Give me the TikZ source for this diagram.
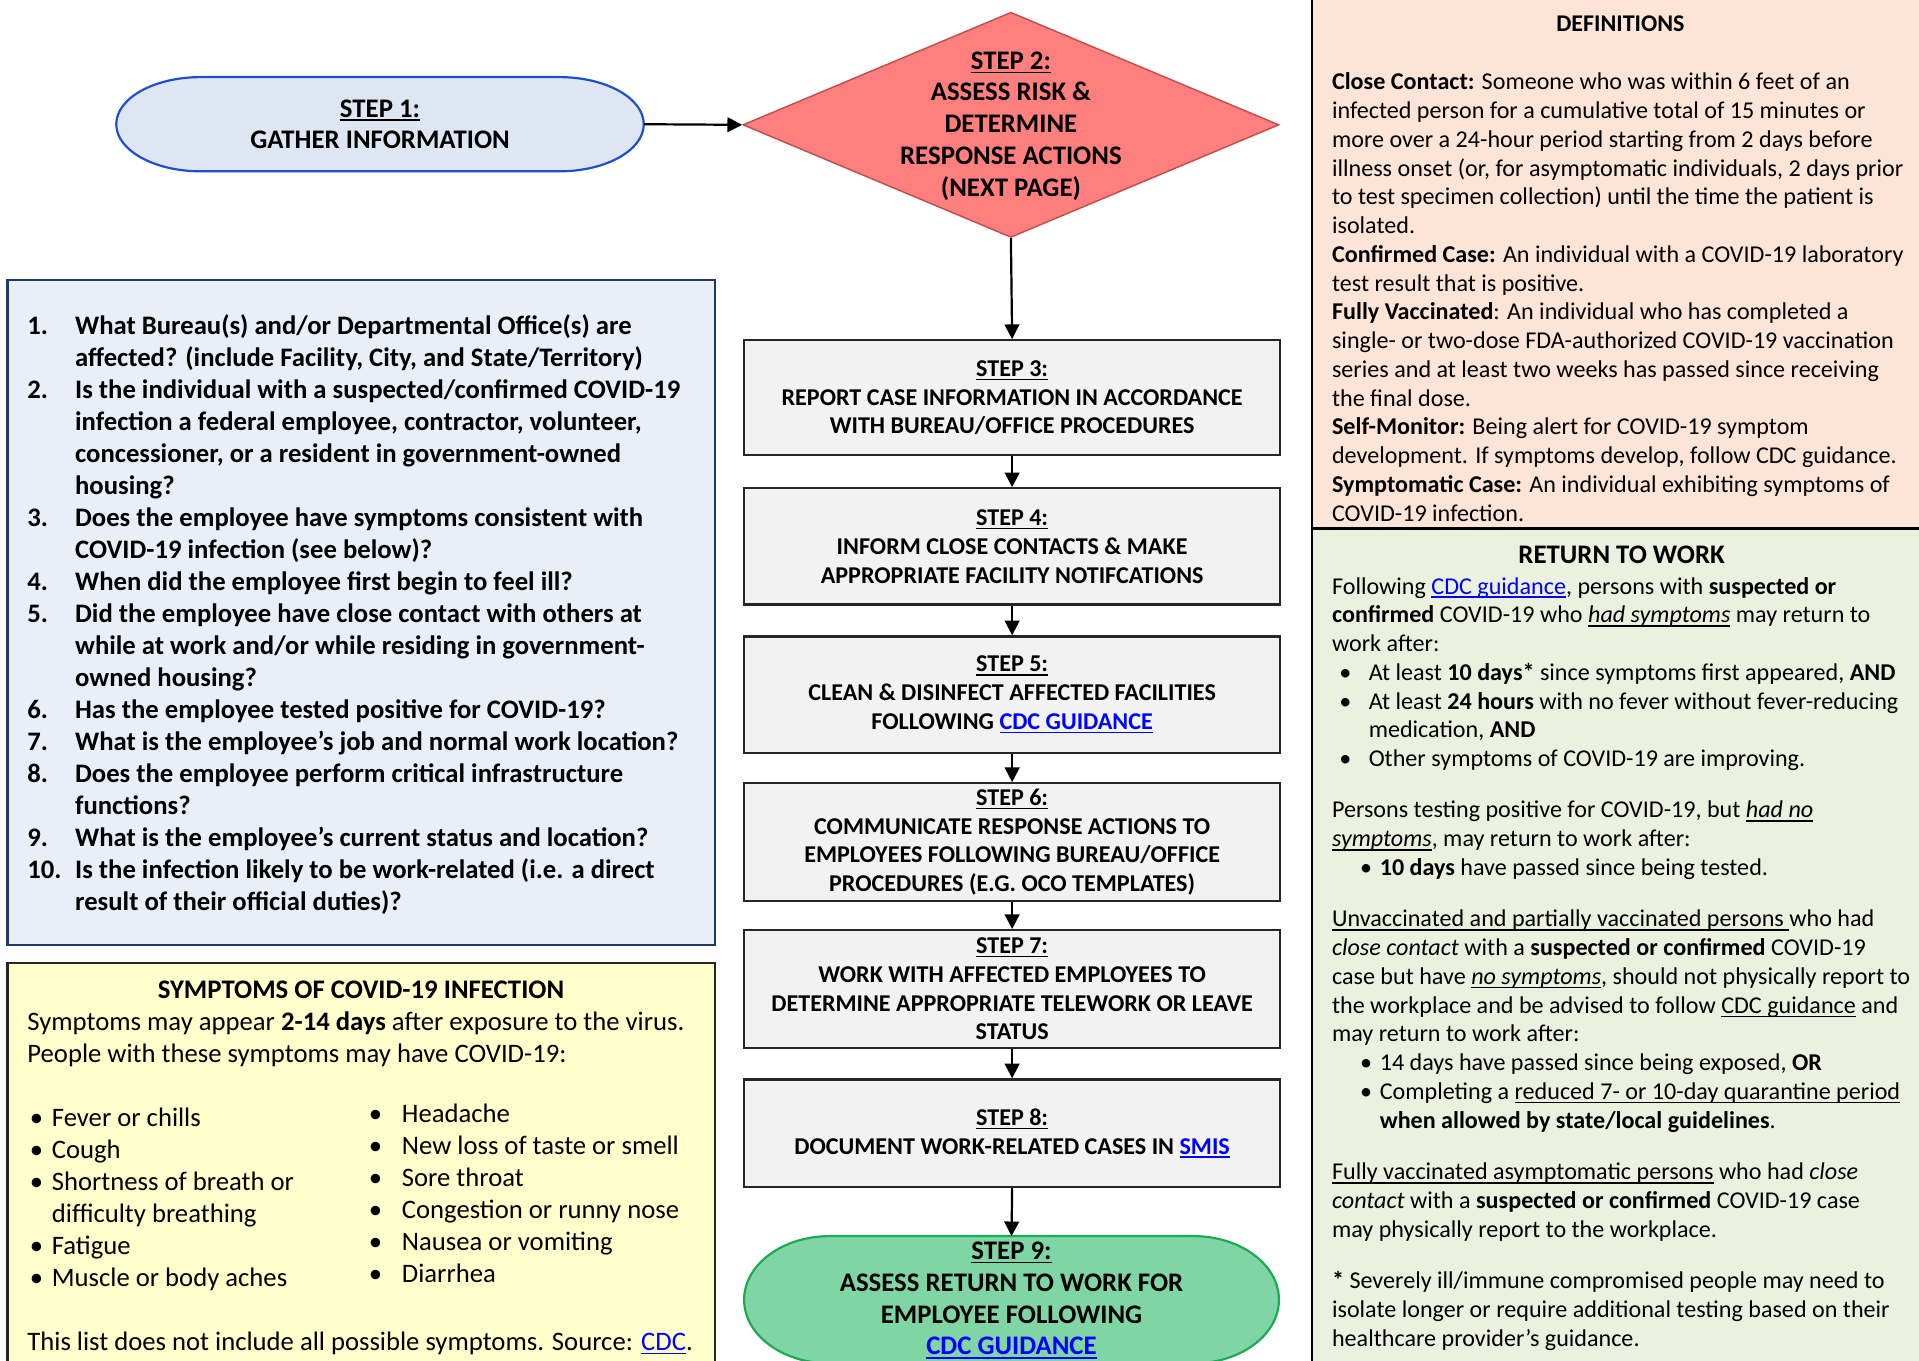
\documentclass[tikz,border=0pt]{standalone}
\usepackage{fontspec}
\setmainfont{Carlito}
\usetikzlibrary{shapes.geometric,arrows.meta}
\definecolor{sonefill}{HTML}{DEE6F4}
\definecolor{soneline}{HTML}{2050C8}
\definecolor{stwofill}{HTML}{FF7F7F}
\definecolor{stwoline}{HTML}{C0504D}
\definecolor{stepfill}{HTML}{F2F2F2}
\definecolor{stepline}{HTML}{262626}
\definecolor{qfill}{HTML}{E9EEF7}
\definecolor{qline}{HTML}{1F3864}
\definecolor{symfill}{HTML}{FFFFCC}
\definecolor{deffill}{HTML}{FCE4D6}
\definecolor{rtwfill}{HTML}{EBF1DE}
\definecolor{sninefill}{HTML}{7FD5A3}
\definecolor{snineline}{HTML}{1EAA55}
\definecolor{linkblue}{HTML}{0000FF}
\newsavebox{\ulbox}
\newcommand{\uln}[1]{\sbox{\ulbox}{#1}\rlap{\rule[-1.6pt]{\wd\ulbox}{0.6pt}}\usebox{\ulbox}}
\newcommand{\lnk}[1]{\textcolor{linkblue}{\uln{#1}}}
\newcommand{\qnum}[1]{\makebox[19.5pt][l]{#1}}
\newcommand{\symb}{\hspace*{1pt}\makebox[9pt][l]{\textbullet}}
\newcommand{\symr}{\makebox[13.5pt][l]{\textbullet}}
\newcommand{\rb}{\hspace*{3pt}\makebox[12pt][l]{\textbullet}}
\newcommand{\rsb}{\hspace*{11.5pt}\makebox[8pt][l]{\textbullet}}
\begin{document}
\begin{tikzpicture}[x=0.5pt,y=-0.5pt,
  stepbox/.style={rectangle, draw=stepline, line width=0.9pt, fill=stepfill,
    minimum width=219pt, align=center, inner sep=0pt,
    font=\bfseries\fontsize{9.85}{11.75}\selectfont},
  bigtext/.style={align=center, inner sep=0pt, font=\bfseries\fontsize{10.95}{13}\selectfont},
  flowarrow/.style={line width=0.9pt, -{Triangle[length=6pt,width=6pt]}},
  txt/.style={anchor=north west, inner sep=0pt, align=left},
  panel/.style={line width=1pt},
  terminal/.style={line width=0.9pt},
]
\useasboundingbox (0,0) rectangle (1568,1112);
\clip (0,0) rectangle (1568,1112);
\fill[white] (0,0) rectangle (1568,1112);

% ---------- right panels ----------
\draw[panel, fill=deffill, draw=black] (1072,-5) rectangle (1580,432);
\draw[panel, fill=rtwfill, draw=black] (1072,432) rectangle (1580,1120);

\node[anchor=base, inner sep=0pt, font=\bfseries\fontsize{9.8}{11.75}\selectfont] (deftitle) at (1324,25.5) {DEFINITIONS};
\node[txt, font=\fontsize{9.85}{11.75}\selectfont] (defbody) at (1088,56.5) {\strut\textbf{Close Contact:} Someone who was within 6 feet of an\\
infected person for a cumulative total of 15 minutes or\\
more over a 24-hour period starting from 2 days before\\
illness onset (or, for asymptomatic individuals, 2 days prior\\
to test specimen collection) until the time the patient is\\
isolated.\\
\textbf{Confirmed Case:} An individual with a COVID-19 laboratory\\
test result that is positive.\\
\textbf{Fully Vaccinated}: An individual who has completed a\\
single- or two-dose FDA-authorized COVID-19 vaccination\\
series and at least two weeks has passed since receiving\\
the final dose.\\
\textbf{Self-Monitor:} Being alert for COVID-19 symptom\\
development. If symptoms develop, follow CDC guidance.\\
\textbf{Symptomatic Case:} An individual exhibiting symptoms of\\
COVID-19 infection.};

\node[anchor=base, inner sep=0pt, font=\bfseries\fontsize{10.95}{13}\selectfont] (rtwtitle) at (1325,460.5) {RETURN TO WORK};
\node[txt, font=\fontsize{9.85}{11.75}\selectfont] (rtwbody) at (1088,468.5) {\strut Following \lnk{CDC guidance}, persons with \textbf{suspected or}\\
\textbf{confirmed} COVID-19 who \uln{\textit{had symptoms}} may return to\\
work after:\\
\rb At least \textbf{10 days*} since symptoms first appeared, \textbf{AND}\\
\rb At least \textbf{24 hours} with no fever without fever-reducing\\
\hspace*{15pt}medication, \textbf{AND}\\
\rb Other symptoms of COVID-19 are improving.\\[9.25pt]
Persons testing positive for COVID-19, but \uln{\textit{had no}}\\
\uln{\textit{symptoms}}, may return to work after:\\
\rsb\textbf{10 days} have passed since being tested.\\[9.25pt]
\uln{Unvaccinated and partially vaccinated persons }who had\\
\textit{close contact} with a \textbf{suspected or confirmed} COVID-19\\
case but have \uln{\textit{no symptoms}}, should not physically report to\\
the workplace and be advised to follow \uln{CDC guidance} and\\
may return to work after:\\
\rsb 14 days have passed since being exposed, \textbf{OR}\\
\rsb Completing a \uln{reduced 7- or 10-day quarantine period}\\
\hspace*{19.5pt}\textbf{when allowed by state/local guidelines}.\\[9.25pt]
\uln{Fully vaccinated asymptomatic persons} who had \textit{close}\\
\textit{contact} with a \textbf{suspected or confirmed} COVID-19 case\\
may physically report to the workplace.\\[9.25pt]
\textbf{*} Severely ill/immune compromised people may need to\\
isolate longer or require additional testing based on their\\
healthcare provider’s guidance.};

% ---------- left panels ----------
\draw[panel, fill=qfill, draw=qline] (6,229) rectangle (584,772);
\node[txt, font=\bfseries\fontsize{10.9}{13.08}\selectfont] (questions) at (22,254.5) {\strut\qnum{1.}What Bureau(s) and/or Departmental Office(s) are\\
\qnum{}affected? (include Facility, City, and State/Territory)\\
\qnum{2.}Is the individual with a suspected/confirmed COVID-19\\
\qnum{}infection a federal employee, contractor, volunteer,\\
\qnum{}concessioner, or a resident in government-owned\\
\qnum{}housing?\\
\qnum{3.}Does the employee have symptoms consistent with\\
\qnum{}COVID-19 infection (see below)?\\
\qnum{4.}When did the employee first begin to feel ill?\\
\qnum{5.}Did the employee have close contact with others at\\
\qnum{}while at work and/or while residing in government-\\
\qnum{}owned housing?\\
\qnum{6.}Has the employee tested positive for COVID-19?\\
\qnum{7.}What is the employee’s job and normal work location?\\
\qnum{8.}Does the employee perform critical infrastructure\\
\qnum{}functions?\\
\qnum{9.}What is the employee’s current status and location?\\
\qnum{10.}Is the infection likely to be work-related (i.e. a direct\\
\qnum{}result of their official duties)?};

\draw[panel, fill=symfill, draw=stepline] (6,787) rectangle (584,1125);
\node[anchor=base, inner sep=0pt, font=\bfseries\fontsize{10.95}{13}\selectfont] (symtitle) at (295,815.5) {SYMPTOMS OF COVID-19 INFECTION};
\node[txt, font=\fontsize{10.9}{13.05}\selectfont] (symintro) at (22,823.5) {\strut Symptoms may appear \textbf{2-14 days} after exposure to the virus.\\
People with these symptoms may have COVID-19:};
\node[txt, font=\fontsize{10.9}{13.1}\selectfont] (symleft) at (22,901.5) {\strut\symb Fever or chills\\
\symb Cough\\
\symb Shortness of breath or\\
\hspace*{10pt}difficulty breathing\\
\symb Fatigue\\
\symb Muscle or body aches};
\node[txt, font=\fontsize{10.9}{13.1}\selectfont] (symright) at (301,898.5) {\strut\symr Headache\\
\symr New loss of taste or smell\\
\symr Sore throat\\
\symr Congestion or runny nose\\
\symr Nausea or vomiting\\
\symr Diarrhea};
\node[anchor=base west, inner sep=0pt, font=\fontsize{10.9}{13}\selectfont] (symsource) at (22,1103.5) {This list does not include all possible symptoms. Source: \lnk{CDC}.};

% ---------- flow ----------
% terminator outlines (elliptical ends)
\draw[terminal, draw=soneline, fill=sonefill]
  (164,63) -- (457,63) arc[start angle=90, end angle=-90, x radius=34.5pt, y radius=19.25pt]
  -- (164,140) arc[start angle=-90, end angle=-270, x radius=34.5pt, y radius=19.25pt] -- cycle;
\node[rectangle, minimum width=215.5pt, minimum height=38.5pt, bigtext] (s1) at (310.5,101.5)
  {\uln{STEP 1:}\\GATHER INFORMATION};
\node[diamond, draw=stwoline, fill=stwofill, line width=0.6pt,
  minimum width=219pt, minimum height=92pt, inner sep=0pt] (s2) at (826,102) {};
\node[bigtext] (s2text) at (826,103) {\uln{STEP 2:}\\ASSESS RISK \&\\DETERMINE\\RESPONSE ACTIONS\\(NEXT PAGE)};

\node[stepbox, minimum height=47pt] (s3) at (827,325)
  {\uln{STEP 3:}\\REPORT CASE INFORMATION IN ACCORDANCE\\WITH BUREAU/OFFICE PROCEDURES};
\node[stepbox, minimum height=47.5pt] (s4) at (827,446.5)
  {\uln{STEP 4:}\\INFORM CLOSE CONTACTS \& MAKE\\APPROPRIATE FACILITY NOTIFCATIONS};
\node[stepbox, minimum height=47.5pt] (s5) at (827,567.5)
  {\uln{STEP 5:}\\CLEAN \& DISINFECT AFFECTED FACILITIES\\FOLLOWING \lnk{CDC GUIDANCE}};
\node[stepbox, minimum height=48pt] (s6) at (827,688)
  {\uln{STEP 6:}\\COMMUNICATE RESPONSE ACTIONS TO\\EMPLOYEES FOLLOWING BUREAU/OFFICE\\PROCEDURES (E.G. OCO TEMPLATES)};
\node[stepbox, minimum height=48pt] (s7) at (827,808)
  {\uln{STEP 7:}\\WORK WITH AFFECTED EMPLOYEES TO\\DETERMINE APPROPRIATE TELEWORK OR LEAVE\\STATUS};
\node[stepbox, minimum height=44pt] (s8) at (827,926)
  {\uln{STEP 8:}\\DOCUMENT WORK-RELATED CASES IN \lnk{SMIS}};

\draw[terminal, draw=snineline, fill=sninefill]
  (678,1010) -- (975,1010) arc[start angle=90, end angle=-90, x radius=35pt, y radius=26pt]
  -- (678,1114) arc[start angle=-90, end angle=-270, x radius=35pt, y radius=26pt] -- cycle;
\node[rectangle, minimum width=218.5pt, minimum height=52pt, bigtext] (s9) at (826.5,1062.5)
  {\uln{STEP 9:}\\ASSESS RETURN TO WORK FOR\\EMPLOYEE FOLLOWING\\\lnk{CDC GUIDANCE}};

\draw[flowarrow] (s1.east) -- (s2.west);
\draw[flowarrow] (s2.south) -- (s3.north);
\draw[flowarrow] (s3.south) -- (s4.north);
\draw[flowarrow] (s4.south) -- (s5.north);
\draw[flowarrow] (s5.south) -- (s6.north);
\draw[flowarrow] (s6.south) -- (s7.north);
\draw[flowarrow] (s7.south) -- (s8.north);
\draw[flowarrow] (s8.south) -- (s9.north);
\end{tikzpicture}
\end{document}
